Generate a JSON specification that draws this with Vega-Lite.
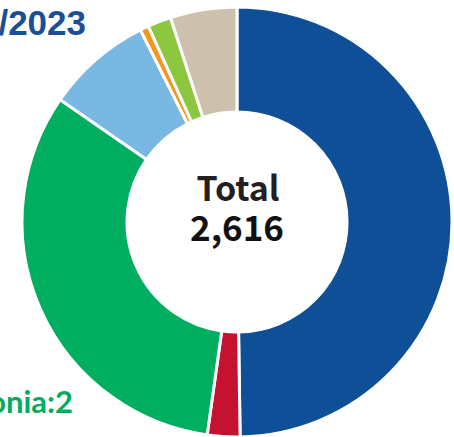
{
  "$schema": "https://vega.github.io/schema/vega-lite/v6.json",
  "width": 434,
  "height": 430,
  "autosize": {"type": "none"},
  "padding": {"left": 20, "top": 7, "right": 0, "bottom": 0},
  "background": "white",
  "config": {"view": {"stroke": null}},
  "layer": [
    {
      "data": {"values": [
        {"region": "Japan", "value": 1302, "i": 1},
        {"region": "North America", "value": 64, "i": 2},
        {"region": "Asia/Oceania", "value": 848, "i": 3},
        {"region": "Europe", "value": 208, "i": 4},
        {"region": "Latin America", "value": 17, "i": 5},
        {"region": "Middle East/Africa", "value": 46, "i": 6},
        {"region": "Other", "value": 131, "i": 7}
      ]},
      "mark": {"type": "arc", "outerRadius": 215, "innerRadius": 110, "stroke": "white", "strokeWidth": 3},
      "encoding": {
        "theta": {"field": "value", "type": "quantitative", "stack": true},
        "order": {"field": "i", "type": "quantitative"},
        "color": {
          "field": "region", "type": "nominal", "legend": null,
          "scale": {
            "domain": ["Japan", "North America", "Asia/Oceania", "Europe", "Latin America", "Middle East/Africa", "Other"],
            "range": ["#0f4f98", "#c5132f", "#00ae60", "#7ab8e4", "#f7941d", "#8dc63f", "#cdc1ae"]
          }
        }
      }
    },
    {
      "data": {"values": [{"t": "Total"}]},
      "mark": {"type": "text", "font": "Noto Sans CJK JP", "fontWeight": "bold", "fontSize": 34, "color": "#231f20", "baseline": "alphabetic", "align": "center", "dx": 1, "dy": -21},
      "encoding": {"text": {"field": "t", "type": "nominal"}}
    },
    {
      "data": {"values": [{"t": "2,616"}]},
      "mark": {"type": "text", "font": "Noto Sans CJK JP", "fontWeight": "bold", "fontSize": 35, "color": "#111111", "baseline": "alphabetic", "align": "center", "dx": 0, "dy": 19},
      "encoding": {"text": {"field": "t", "type": "nominal"}}
    },
    {
      "data": {"values": [{"t": "/2023"}]},
      "mark": {"type": "text", "font": "Liberation Sans", "fontWeight": "bold", "fontSize": 35, "color": "#1a4f96", "baseline": "alphabetic", "align": "right", "dx": -151, "dy": -187},
      "encoding": {"text": {"field": "t", "type": "nominal"}}
    },
    {
      "data": {"values": [{"t": "onia:2"}]},
      "mark": {"type": "text", "font": "Lato", "fontWeight": "bold", "fontSize": 31, "color": "#00ac5e", "baseline": "alphabetic", "align": "right", "dx": -164, "dy": 191},
      "encoding": {"text": {"field": "t", "type": "nominal"}}
    }
  ]
}
